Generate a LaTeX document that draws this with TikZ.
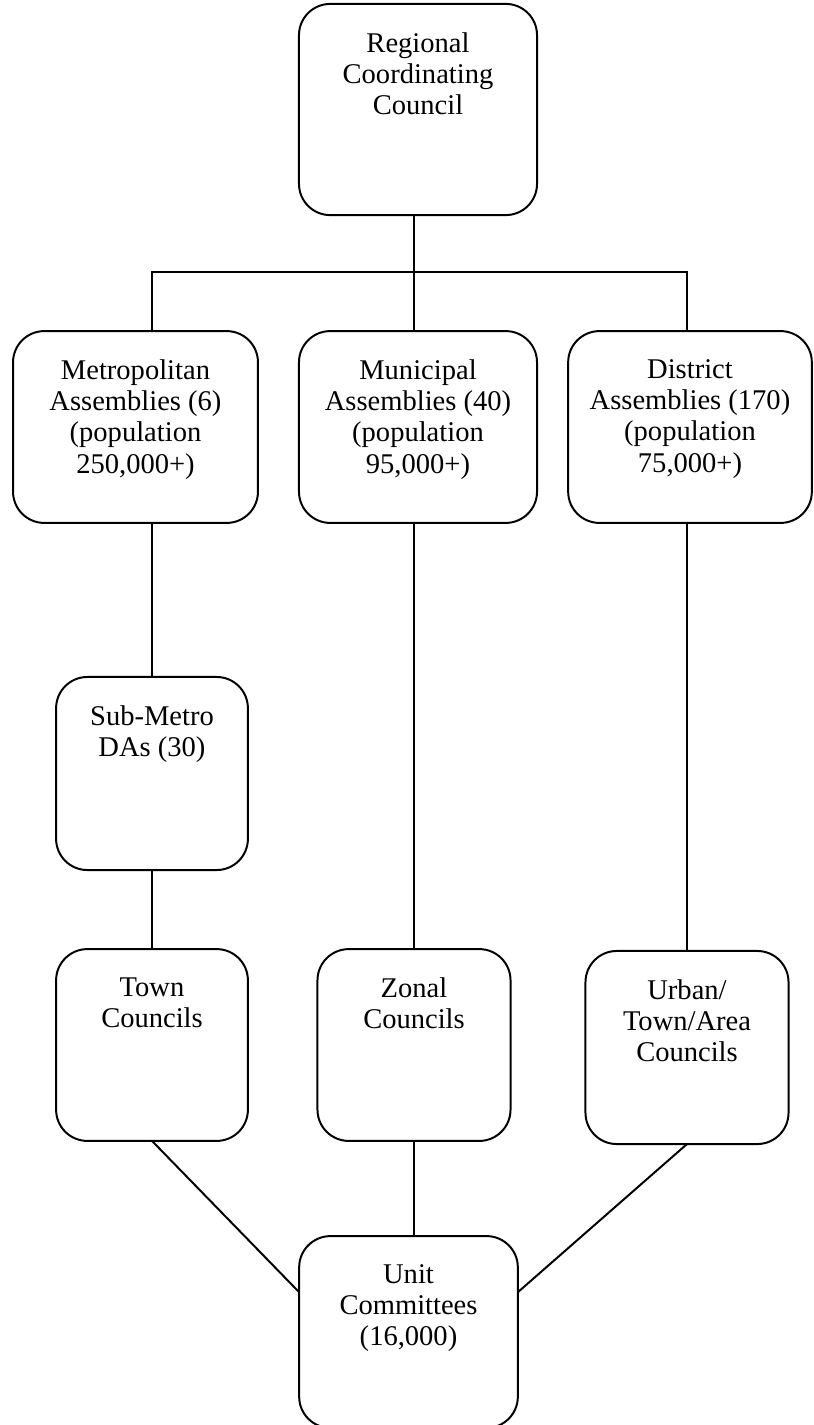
\documentclass[tikz,border=0pt]{standalone}
\usepackage{fontspec}
\setmainfont{Liberation Serif}
\usetikzlibrary{positioning}

\tikzset{
  orgbox/.style={draw, line width=0.9pt, rounded corners=0.5cm, inner sep=0pt, outer sep=0pt},
  boxtext/.style={anchor=north, yshift=-0.45cm, align=center, inner sep=0pt,
    font=\fontsize{13pt}{14.2pt}\selectfont},
  link/.style={line width=0.9pt}
}

\begin{document}
\begin{tikzpicture}[x=0.016cm, y=-0.016cm]
    \useasboundingbox (0,0) rectangle (813,1425);
    \node[orgbox, minimum width=3.81cm, minimum height=3.38cm,
      label={[boxtext]north:Regional\\Coordinating\\Council}] (rcc) at (418,109.5) {};
    \node[orgbox, minimum width=3.92cm, minimum height=3.07cm,
      label={[boxtext]north:Metropolitan\\Assemblies (6)\\(population\\250,000+)}] (metro) at (135.5,427) {};
    \node[orgbox, minimum width=3.81cm, minimum height=3.07cm,
      label={[boxtext]north:Municipal\\Assemblies (40)\\(population\\95,000+)}] (muni) at (418,427) {};
    \node[orgbox, minimum width=3.90cm, minimum height=3.07cm,
      label={[boxtext]north:District\\Assemblies (170)\\(population\\75,000+)}] (dist) at (690,427) {};
    \node[orgbox, minimum width=3.07cm, minimum height=3.09cm,
      label={[boxtext]north:Sub-Metro\\DAs (30)}] (sub) at (152,773.5) {};
    \node[orgbox, minimum width=3.07cm, minimum height=3.07cm,
      label={[boxtext]north:Town\\Councils}] (town) at (152,1045) {};
    \node[orgbox, minimum width=3.09cm, minimum height=3.07cm,
      label={[boxtext]north:Zonal\\Councils}] (zonal) at (414,1045) {};
    \node[orgbox, minimum width=3.25cm, minimum height=3.09cm,
      label={[boxtext]north:Urban/\\Town/Area\\Councils}] (urban) at (687,1047.5) {};
    \node[orgbox, minimum width=3.50cm, minimum height=3.07cm,
      label={[boxtext]north:Unit\\Committees\\(16,000)}] (unit) at (408.5,1332) {};
    \coordinate (bar) at (414,272);

    \draw[link] (rcc.south -| bar) -- (bar);
    \draw[link] (metro.north -| sub.north) |- (bar) -| (dist.north -| urban.north);
    \draw[link] (bar) -- (muni.north -| bar);
    \draw[link] (metro.south -| sub.north) -- (sub.north);
    \draw[link] (sub.south) -- (town.north);
    \draw[link] (muni.south -| zonal.north) -- (zonal.north);
    \draw[link] (dist.south -| urban.north) -- (urban.north);
    \draw[link] (town.south) -- (unit.160);
    \draw[link] (zonal.south) -- (zonal.south |- unit.north);
    \draw[link] (urban.south) -- (unit.20);
\end{tikzpicture}
\end{document}
